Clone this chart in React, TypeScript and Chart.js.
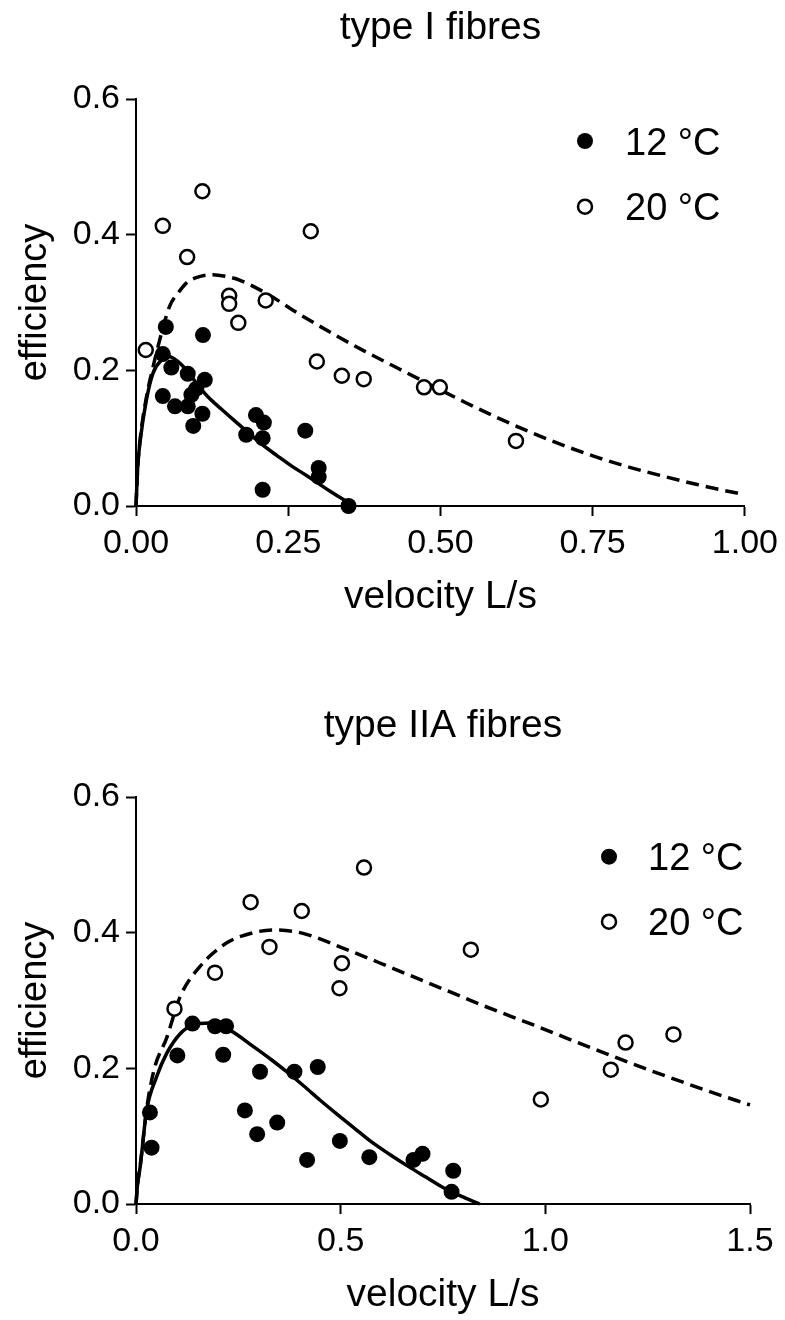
import React, { useEffect, useRef } from "react";
import { Chart, registerables } from "chart.js";

Chart.register(...registerables);

const FONT = "'Liberation Sans', Arial, Helvetica, sans-serif";
Chart.defaults.font.family = FONT;
Chart.defaults.color = "#000";

// ---------- type I fibres ----------
const I_V12 = [0.044, 0.044, 0.049, 0.058, 0.064, 0.085, 0.085, 0.091, 0.094, 0.099, 0.109, 0.110, 0.113, 0.181, 0.197, 0.208, 0.210, 0.208, 0.278, 0.300, 0.300, 0.349];
const I_E12 = [0.162, 0.224, 0.264, 0.204, 0.147, 0.195, 0.147, 0.164, 0.118, 0.173, 0.136, 0.252, 0.186, 0.105, 0.134, 0.100, 0.123, 0.024, 0.111, 0.056, 0.043, 0.000];
const I_V20 = [0.016, 0.044, 0.084, 0.109, 0.153, 0.153, 0.168, 0.213, 0.287, 0.297, 0.338, 0.374, 0.473, 0.499, 0.624];
const I_E20 = [0.230, 0.413, 0.367, 0.464, 0.310, 0.298, 0.270, 0.303, 0.405, 0.213, 0.192, 0.187, 0.175, 0.175, 0.096];
const I_FIT12_V = [0, 0.003, 0.007, 0.017, 0.028, 0.042, 0.055, 0.07, 0.085, 0.1, 0.118, 0.14, 0.164, 0.186, 0.208, 0.232, 0.257, 0.28, 0.3, 0.32, 0.34, 0.36];
const I_FIT12_E = [0, 0.06, 0.097, 0.156, 0.196, 0.215, 0.220, 0.212, 0.198, 0.180, 0.161, 0.143, 0.124, 0.107, 0.090, 0.074, 0.058, 0.045, 0.033, 0.021, 0.010, 0.0];
const I_FIT20_V = [0, 0.003, 0.007, 0.017, 0.028, 0.039, 0.055, 0.07, 0.083, 0.1, 0.126, 0.15, 0.17, 0.213, 0.268, 0.327, 0.376, 0.43, 0.485, 0.54, 0.594, 0.65, 0.703, 0.76, 0.811, 0.87, 0.92, 0.96, 1.0];
const I_FIT20_E = [0, 0.06, 0.1, 0.16, 0.205, 0.245, 0.294, 0.315, 0.329, 0.337, 0.341, 0.338, 0.333, 0.314, 0.283, 0.252, 0.228, 0.203, 0.178, 0.153, 0.130, 0.108, 0.089, 0.071, 0.057, 0.043, 0.032, 0.024, 0.017];

// ---------- type IIA fibres ----------
const IIA_V12 = [0.034, 0.038, 0.101, 0.138, 0.193, 0.213, 0.220, 0.266, 0.296, 0.303, 0.345, 0.387, 0.418, 0.444, 0.498, 0.570, 0.678, 0.700, 0.771, 0.775];
const IIA_E12 = [0.135, 0.083, 0.219, 0.266, 0.262, 0.220, 0.262, 0.138, 0.103, 0.195, 0.120, 0.195, 0.065, 0.202, 0.093, 0.069, 0.065, 0.074, 0.018, 0.049];
const IIA_V20 = [0.094, 0.193, 0.280, 0.326, 0.405, 0.497, 0.503, 0.557, 0.818, 0.989, 1.160, 1.196, 1.313];
const IIA_E20 = [0.288, 0.341, 0.445, 0.379, 0.432, 0.318, 0.355, 0.496, 0.375, 0.154, 0.198, 0.238, 0.250];
const IIA_FIT12_V = [0, 0.004, 0.01, 0.026, 0.05, 0.075, 0.108, 0.14, 0.181, 0.23, 0.287, 0.33, 0.368, 0.41, 0.45, 0.49, 0.531, 0.572, 0.62, 0.669, 0.71, 0.751, 0.8, 0.84];
const IIA_FIT12_E = [0, 0.03, 0.054, 0.138, 0.187, 0.222, 0.251, 0.264, 0.267, 0.256, 0.232, 0.213, 0.195, 0.174, 0.153, 0.133, 0.113, 0.093, 0.073, 0.054, 0.039, 0.024, 0.010, 0.0];
const IIA_FIT20_V = [0, 0.004, 0.01, 0.026, 0.045, 0.075, 0.108, 0.156, 0.222, 0.287, 0.336, 0.401, 0.507, 0.629, 0.75, 0.85, 0.971, 1.05, 1.134, 1.22, 1.297, 1.4, 1.5];
const IIA_FIT20_E = [0, 0.03, 0.055, 0.14, 0.2, 0.245, 0.306, 0.350, 0.385, 0.400, 0.404, 0.400, 0.377, 0.347, 0.317, 0.292, 0.264, 0.245, 0.225, 0.205, 0.188, 0.166, 0.146];

// ---------- labels ----------
const TITLES = ["type I fibres", "type IIA fibres"];
const SERIES_LABELS = ["12 °C", "20 °C"];
const X_TITLE = "velocity L/s";
const Y_TITLE = "efficiency";
const Y_TICKS = ["0.0", "0.2", "0.4", "0.6"];
const X_TICKS_I = ["0.00", "0.25", "0.50", "0.75", "1.00"];
const X_TICKS_IIA = ["0.0", "0.5", "1.0", "1.5"];

const pts = (xs: number[], ys: number[]) => xs.map((x, i) => ({ x, y: ys[i] }));

const insideLegend = {
  id: "insideLegend",
  afterDraw(chart: any, _args: any, opts: any) {
    const ctx = chart.ctx as CanvasRenderingContext2D;
    const items = chart.data.datasets.filter((d: any) => d.inLegend);
    ctx.save();
    ctx.font = `${opts.fontSize}px ${FONT}`;
    ctx.textAlign = "left";
    ctx.textBaseline = "alphabetic";
    items.forEach((d: any, i: number) => {
      const y = opts.y + i * opts.gap;
      ctx.beginPath();
      ctx.arc(opts.markerX, y, d.pointRadius, 0, Math.PI * 2);
      ctx.fillStyle = d.pointBackgroundColor;
      ctx.fill();
      if (d.pointBorderWidth > 0) {
        ctx.lineWidth = d.pointBorderWidth;
        ctx.strokeStyle = d.pointBorderColor;
        ctx.stroke();
      }
      ctx.fillStyle = "#000";
      ctx.fillText(d.label, opts.textX, y + 0.358 * opts.fontSize);
    });
    ctx.restore();
  },
};

type Spec = {
  title: string;
  v12: number[]; e12: number[]; v20: number[]; e20: number[];
  f12v: number[]; f12e: number[]; f20v: number[]; f20e: number[];
  xMax: number; xStep: number; xTicks: string[];
  padRight: number;
  legend: { markerX: number; textX: number; y: number; gap: number };
};

const SPECS: Spec[] = [
  {
    title: TITLES[0],
    v12: I_V12, e12: I_E12, v20: I_V20, e20: I_E20,
    f12v: I_FIT12_V, f12e: I_FIT12_E, f20v: I_FIT20_V, f20e: I_FIT20_E,
    xMax: 1.0, xStep: 0.25, xTicks: X_TICKS_I,
    padRight: 36,
    legend: { markerX: 585, textX: 625, y: 141, gap: 65.7 },
  },
  {
    title: TITLES[1],
    v12: IIA_V12, e12: IIA_E12, v20: IIA_V20, e20: IIA_E20,
    f12v: IIA_FIT12_V, f12e: IIA_FIT12_E, f20v: IIA_FIT20_V, f20e: IIA_FIT20_E,
    xMax: 1.5, xStep: 0.5, xTicks: X_TICKS_IIA,
    padRight: 35,
    legend: { markerX: 609, textX: 648, y: 158.7, gap: 65 },
  },
];

const W = 785;
const H = 622;

function buildConfig(s: Spec): any {
  const grid = { display: true, drawOnChartArea: false, drawTicks: true, tickLength: 10, tickWidth: 2, tickColor: "#000" };
  const border = { display: true, color: "#000", width: 2 };
  return {
    type: "scatter",
    data: {
      datasets: [
        {
          label: SERIES_LABELS[0], inLegend: true, data: pts(s.v12, s.e12), showLine: false,
          pointRadius: 8, pointBackgroundColor: "#000", pointBorderColor: "#000", pointBorderWidth: 0, clip: false,
        },
        {
          label: SERIES_LABELS[1], inLegend: true, data: pts(s.v20, s.e20), showLine: false,
          pointRadius: 7, pointBackgroundColor: "#fff", pointBorderColor: "#000", pointBorderWidth: 2.5, clip: false,
        },
        {
          label: SERIES_LABELS[0] + " fit", data: pts(s.f12v, s.f12e), showLine: true, pointRadius: 0,
          borderColor: "#000", borderWidth: 3.5, cubicInterpolationMode: "monotone", fill: false, clip: false,
        },
        {
          label: SERIES_LABELS[1] + " fit", data: pts(s.f20v, s.f20e), showLine: true, pointRadius: 0,
          borderColor: "#000", borderWidth: 3.5, borderDash: [13, 7], cubicInterpolationMode: "monotone", fill: false, clip: false,
        },
      ],
    },
    options: {
      responsive: false,
      animation: false,
      devicePixelRatio: 1,
      events: [],
      layout: { padding: { left: 0, right: s.padRight, top: 0, bottom: 0 } },
      plugins: {
        legend: { display: false },
        tooltip: { enabled: false },
        title: {
          display: true, text: s.title, fullSize: false, color: "#000",
          font: { family: FONT, size: 39, weight: "normal" },
          padding: { top: 4.6, bottom: 47.6 },
        },
        insideLegend: { ...s.legend, fontSize: 38 },
      },
      scales: {
        x: {
          type: "linear", min: 0, max: s.xMax,
          afterFit: (sc: any) => { sc.height = H - 506; },
          ticks: {
            stepSize: s.xStep, autoSkip: false, maxRotation: 0, color: "#000", padding: 7,
            font: { family: FONT, size: 34 },
            callback: (_v: any, i: number) => s.xTicks[i],
          },
          grid, border,
          title: {
            display: true, text: X_TITLE, color: "#000",
            font: { family: FONT, size: 39 }, padding: { top: 0, bottom: 1 },
          },
        },
        y: {
          type: "linear", min: 0, max: 0.6,
          afterFit: (sc: any) => { sc.width = 136; },
          ticks: {
            stepSize: 0.2, autoSkip: false, color: "#000", padding: 6,
            font: { family: FONT, size: 34 },
            callback: (_v: any, i: number) => Y_TICKS[i],
          },
          grid, border,
          title: {
            display: true, text: Y_TITLE, color: "#000",
            font: { family: FONT, size: 38 }, padding: { top: 13.2, bottom: 0 },
          },
        },
      },
    },
    plugins: [insideLegend],
  };
}

function Panel({ spec, top }: { spec: Spec; top: number }) {
  const ref = useRef<HTMLCanvasElement>(null);
  useEffect(() => {
    const chart = new Chart(ref.current as HTMLCanvasElement, buildConfig(spec));
    return () => chart.destroy();
  }, [spec]);
  return (
    <canvas
      ref={ref}
      width={W}
      height={H}
      style={{ position: "absolute", left: 0, top, width: W, height: H, display: "block" }}
    />
  );
}

export default function App() {
  return (
    <div style={{ position: "absolute", left: 0, top: 0, width: W, height: 1320, background: "#fff" }}>
      <Panel spec={SPECS[0]} top={0} />
      <Panel spec={SPECS[1]} top={698} />
    </div>
  );
}
